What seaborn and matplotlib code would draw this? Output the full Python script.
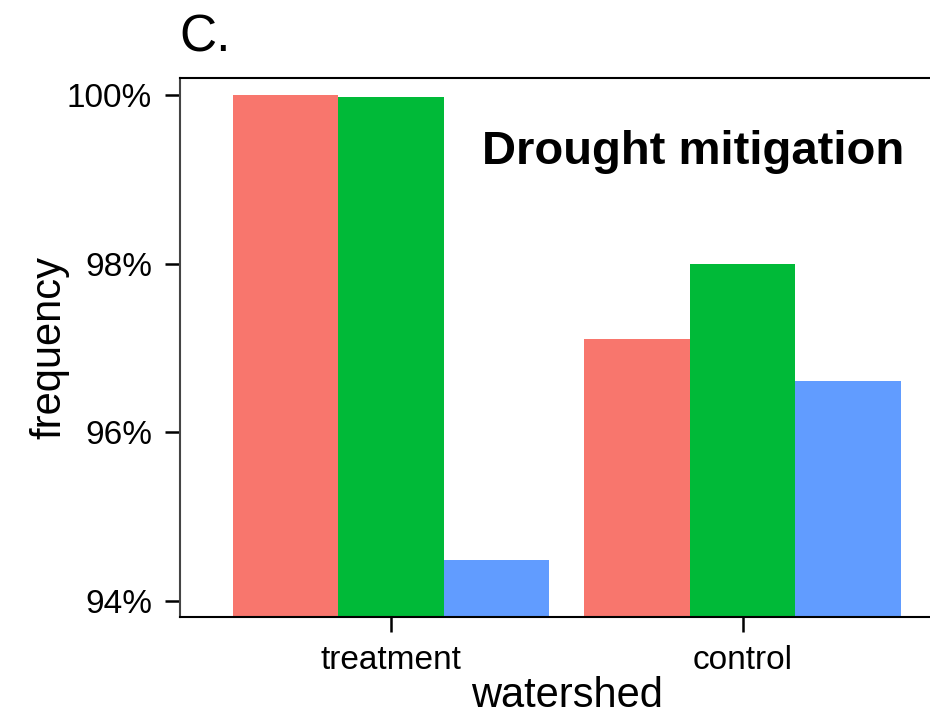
import matplotlib
matplotlib.use("Agg")
import matplotlib.pyplot as plt
import seaborn as sns
import pandas as pd
from matplotlib.ticker import FuncFormatter

# Data
watersheds = ["treatment", "control"]
groups = ["group 1", "group 2", "group 3"]
values_group1 = [100.0, 97.10]
values_group2 = [99.98, 97.99]
values_group3 = [94.49, 96.61]
colors = ["#F8766D", "#00BA38", "#619CFF"]
y_ticks = [94, 96, 98, 100]

rows = []
for g, vals in zip(groups, [values_group1, values_group2, values_group3]):
    for w, v in zip(watersheds, vals):
        rows.append({"watershed": w, "group": g, "frequency": v})
df = pd.DataFrame(rows)

sns.set_theme(style="white")
plt.rcParams["font.family"] = ["Liberation Sans", "DejaVu Sans"]
plt.rcParams["text.color"] = "black"
plt.rcParams["axes.labelcolor"] = "black"
plt.rcParams["xtick.color"] = "black"
plt.rcParams["ytick.color"] = "black"

fig = plt.figure(figsize=(9.3, 7.18), dpi=100)
ax = fig.add_axes([180/930, 1-617/718, (953.5-180)/930, (617-78)/718])

sns.barplot(data=df, x="watershed", y="frequency", hue="group",
            order=watersheds, hue_order=groups, palette=colors,
            width=0.9, gap=0, saturation=1, errorbar=None,
            edgecolor="none", linewidth=0, legend=False, ax=ax)

ax.set_xlim(-0.6, 1.6)
ax.set_ylim(93.81, 100.2)
ax.set_yticks(y_ticks)
ax.yaxis.set_major_formatter(FuncFormatter(lambda v, p: f"{v:.0f}%"))

for s in ["left", "bottom", "top"]:
    ax.spines[s].set_visible(True)
    ax.spines[s].set_color("black")
    ax.spines[s].set_linewidth(1.5)
ax.spines["right"].set_visible(False)
ax.spines["left"].set_color("#444444")

ax.tick_params(axis="both", which="major", direction="out", length=11,
               width=1.8, color="black", left=True, bottom=True,
               labelcolor="black")
ax.tick_params(axis="y", labelsize=24, pad=9)
ax.tick_params(axis="x", labelsize=24, pad=9)

ax.set_xlabel("watershed", fontsize=30, labelpad=0, color="black")
ax.set_ylabel("frequency", fontsize=30, labelpad=-2, color="black")

ax.text(0.664, 0.862, "Drought mitigation", transform=ax.transAxes,
        fontsize=34, fontweight="bold", ha="center", va="center", color="black")

fig.text(179/930, 1-52/718, "C.", fontsize=37, ha="left", va="baseline", color="black")

fig.savefig("out.png", dpi=100)
